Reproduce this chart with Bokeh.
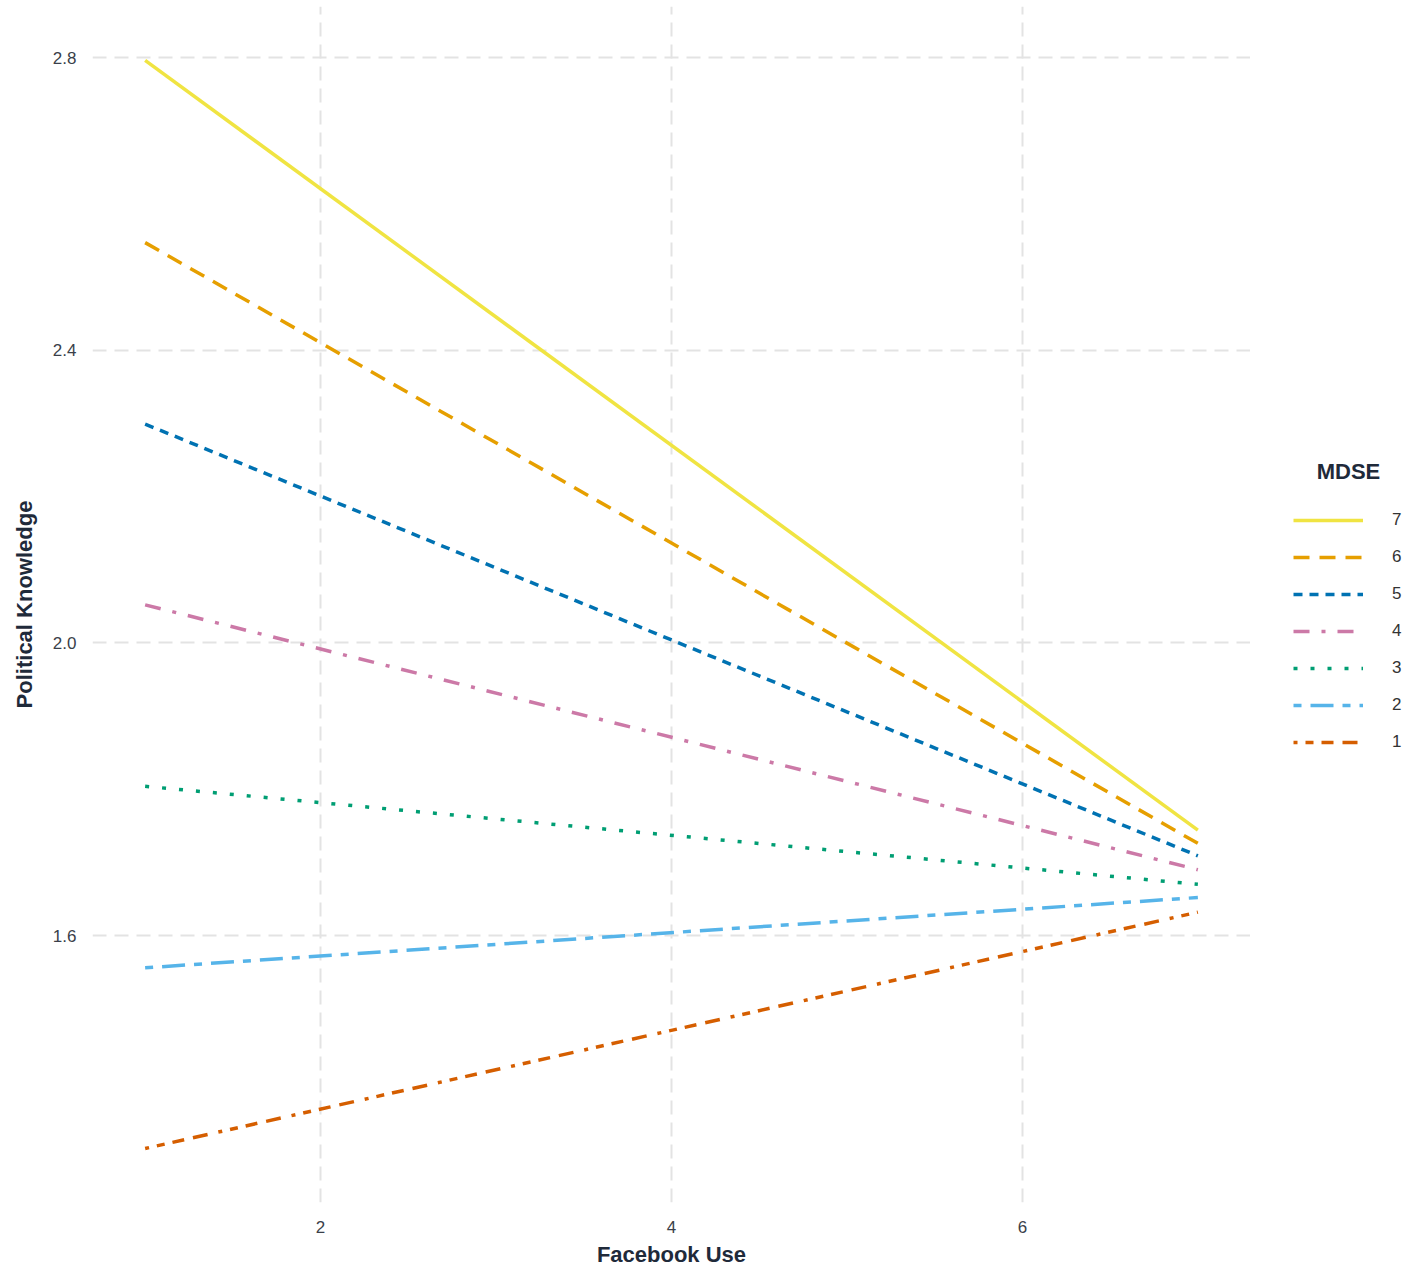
from bokeh.plotting import figure
from bokeh.models import Legend, LegendItem, Range1d, FixedTicker, NumeralTickFormatter, Label
from bokeh.layouts import row
from bokeh.embed import file_html
from bokeh.resources import INLINE

# ---- data ----
mdse_levels = ["7", "6", "5", "4", "3", "2", "1"]
facebook_use = [1, 7]
pk_at_low = [2.796, 2.547, 2.299, 2.052, 1.804, 1.556, 1.309]
pk_at_high = [1.744, 1.726, 1.709, 1.690, 1.670, 1.652, 1.632]
x_ticks = [2, 4, 6]
y_ticks = [1.6, 2.0, 2.4, 2.8]

colors = ["#F0E442", "#E69F00", "#0072B2", "#CC79A7", "#009E73", "#56B4E9", "#D55E00"]
dashes = ["solid", "16 10", "9 7", "16 12 4 12", "4 13", "8 9 23 9", "4 8 8 8 12 9 15 11"]

FONT = "Liberation Sans"
H = 1275
FRAME_BOTTOM = 1202  # frame bottom (pixels from top) shared by both panels

p = figure(width=1250, height=H, output_backend="svg", toolbar_location=None,
           x_range=Range1d(0.7, 7.3), y_range=Range1d(1.2352, 2.8697),
           min_border_left=92, min_border_right=0, min_border_top=6,
           min_border_bottom=H - FRAME_BOTTOM)
p.outline_line_color = None
p.background_fill_color = "white"
p.border_fill_color = "white"

for ax in (p.xaxis[0], p.yaxis[0]):
    ax.axis_line_color = None
    ax.major_tick_line_color = None
    ax.minor_tick_line_color = None
    ax.major_tick_out = 0
    ax.major_tick_in = 0
    ax.minor_tick_out = 0
    ax.minor_tick_in = 0
    ax.major_label_text_font = FONT
    ax.major_label_text_font_size = "17px"
    ax.major_label_text_color = "#3a3f4a"
    ax.axis_label_text_font = FONT
    ax.axis_label_text_font_size = "22px"
    ax.axis_label_text_font_style = "bold"
    ax.axis_label_text_color = "#1f2a3a"

p.xaxis.ticker = FixedTicker(ticks=x_ticks)
p.yaxis.ticker = FixedTicker(ticks=y_ticks)
p.yaxis.formatter = NumeralTickFormatter(format="0.0")
p.xaxis.axis_label = "Facebook Use"
p.yaxis.axis_label = "Political Knowledge"
p.xaxis.major_label_standoff = 18
p.yaxis.major_label_standoff = 16
p.xaxis.axis_label_standoff = 6
p.yaxis.axis_label_standoff = 13

for g in (p.xgrid[0], p.ygrid[0]):
    g.grid_line_color = "#E3E3E3"
    g.grid_line_width = 2
    g.grid_line_dash = "14 8"

for y0, y1, c, d in zip(pk_at_low, pk_at_high, colors, dashes):
    p.line(facebook_use, [y0, y1], line_color=c, line_width=3.5, line_dash=d)

# ---- legend panel ----
q = figure(width=160, height=H, output_backend="svg", toolbar_location=None,
           x_range=Range1d(0, 1), y_range=Range1d(0, 1),
           x_axis_location=None, y_axis_location=None, min_border=0)
q.outline_line_color = None
q.grid.grid_line_color = None
q.border_fill_color = "white"

items = []
for lvl, y0, y1, c, d in zip(mdse_levels, pk_at_low, pk_at_high, colors, dashes):
    r = q.line(facebook_use, [y0, y1], line_color=c, line_width=3.5, line_dash=d, visible=False)
    items.append(LegendItem(label=lvl, renderers=[r]))

legend = Legend(items=items, location=(43, FRAME_BOTTOM - 752), orientation="vertical",
                glyph_width=70, glyph_height=20, label_height=20, spacing=17,
                label_standoff=29, label_width=12, padding=0, margin=0,
                border_line_alpha=0, background_fill_alpha=0, inactive_fill_alpha=0,
                label_text_font=FONT, label_text_font_size="17px",
                label_text_color="#333333")
q.add_layout(legend, "center")

title = Label(x=98, y=FRAME_BOTTOM - 471, x_units="screen", y_units="screen", text="MDSE",
              text_align="center", text_baseline="middle",
              text_font=FONT, text_font_size="22px", text_font_style="bold",
              text_color="#1f2a3a")
q.add_layout(title)

layout = row(p, q)
open("out.html", "w").write(file_html(layout, INLINE))
